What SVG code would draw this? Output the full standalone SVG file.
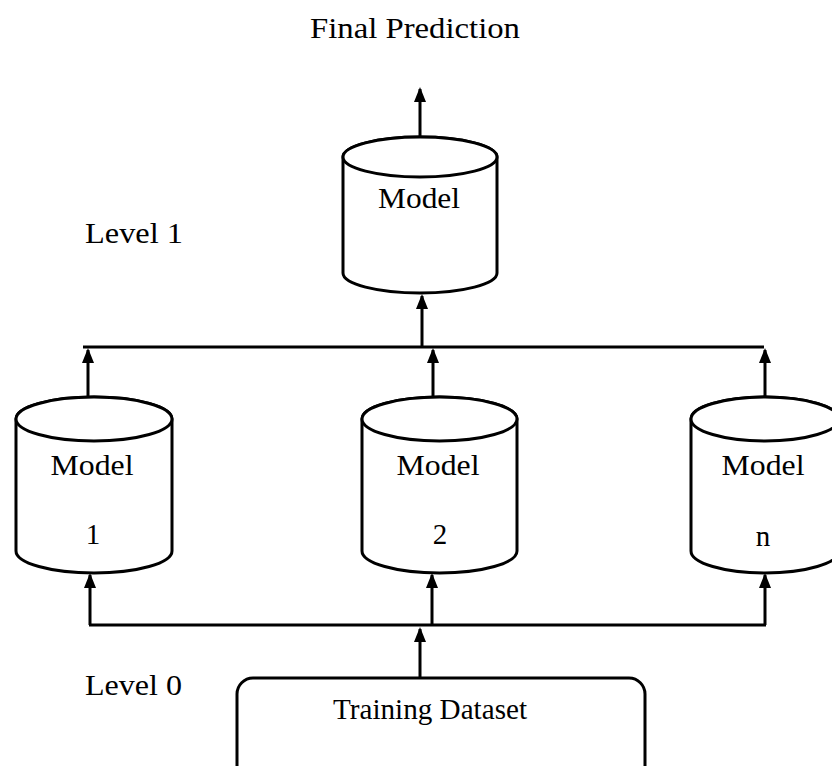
<svg xmlns="http://www.w3.org/2000/svg" width="832" height="766" viewBox="0 0 832 766">
<style>
.shape{fill:#fff;stroke:#000;stroke-width:3}
.conn{fill:none;stroke:#000;stroke-width:3}
.t{font-family:"Liberation Serif","Times New Roman",serif;font-size:29px;fill:#000;text-anchor:middle}
.tl{font-family:"Liberation Serif","Times New Roman",serif;font-size:29px;fill:#000}
</style>
<defs>
<marker id="ah" viewBox="0 0 15 12" refX="13" refY="6" markerWidth="15" markerHeight="12" markerUnits="userSpaceOnUse" orient="auto">
<path d="M0,0 L15,6 L0,12 z" fill="#000"/>
</marker>
</defs>
<rect width="832" height="766" fill="#fff"/>
<text class="t" x="415" y="38" textLength="210" lengthAdjust="spacingAndGlyphs">Final Prediction</text>
<text class="tl" x="85" y="243" textLength="98" lengthAdjust="spacingAndGlyphs">Level 1</text>
<text class="tl" x="85" y="695" textLength="97" lengthAdjust="spacingAndGlyphs">Level 0</text>
<g id="connectors">
<line class="conn" x1="420" y1="137" x2="420" y2="89" marker-end="url(#ah)"/>
<line class="conn" x1="422" y1="347" x2="422" y2="296" marker-end="url(#ah)"/>
<line class="conn" x1="83" y1="347" x2="764" y2="347"/>
<line class="conn" x1="88" y1="397" x2="88" y2="350" marker-end="url(#ah)"/>
<line class="conn" x1="433" y1="397" x2="433" y2="350" marker-end="url(#ah)"/>
<line class="conn" x1="765" y1="397" x2="765" y2="350" marker-end="url(#ah)"/>
<line class="conn" x1="89" y1="625" x2="766" y2="625"/>
<line class="conn" x1="90" y1="625" x2="90" y2="575" marker-end="url(#ah)"/>
<line class="conn" x1="432" y1="625" x2="432" y2="575" marker-end="url(#ah)"/>
<line class="conn" x1="765" y1="625" x2="765" y2="575" marker-end="url(#ah)"/>
<line class="conn" x1="420" y1="678" x2="420" y2="629" marker-end="url(#ah)"/>
</g>
<g id="model-top">
<path class="shape" d="M343,157 A77,20 0 0 1 497,157 L497,273 A77,20 0 0 1 343,273 Z"/>
<ellipse class="shape" cx="420" cy="157" rx="77" ry="20"/>
<text class="t" x="419" y="208" textLength="82" lengthAdjust="spacingAndGlyphs">Model</text>
</g>
<g id="model-1">
<path class="shape" d="M16,419 A78,22 0 0 1 172,419 L172,551 A78,22 0 0 1 16,551 Z"/>
<ellipse class="shape" cx="94" cy="419" rx="78" ry="22"/>
<text class="t" x="92" y="475" textLength="83" lengthAdjust="spacingAndGlyphs">Model</text>
<text class="t" x="93" y="544">1</text>
</g>
<g id="model-2">
<path class="shape" d="M362,419 A77.5,22 0 0 1 517,419 L517,551 A77.5,22 0 0 1 362,551 Z"/>
<ellipse class="shape" cx="439.5" cy="419" rx="77.5" ry="22"/>
<text class="t" x="438" y="475" textLength="83" lengthAdjust="spacingAndGlyphs">Model</text>
<text class="t" x="440" y="544">2</text>
</g>
<g id="model-n">
<path class="shape" d="M691,419 A74,22 0 0 1 839,419 L839,551 A74,22 0 0 1 691,551 Z"/>
<ellipse class="shape" cx="765" cy="419" rx="74" ry="22"/>
<text class="t" x="763" y="475" textLength="83" lengthAdjust="spacingAndGlyphs">Model</text>
<text class="t" x="763" y="546">n</text>
</g>
<g id="training-dataset">
<rect class="shape" x="237" y="678" width="408" height="110" rx="16" ry="16"/>
<text class="t" x="430" y="719" textLength="194" lengthAdjust="spacingAndGlyphs">Training Dataset</text>
</g>
</svg>
